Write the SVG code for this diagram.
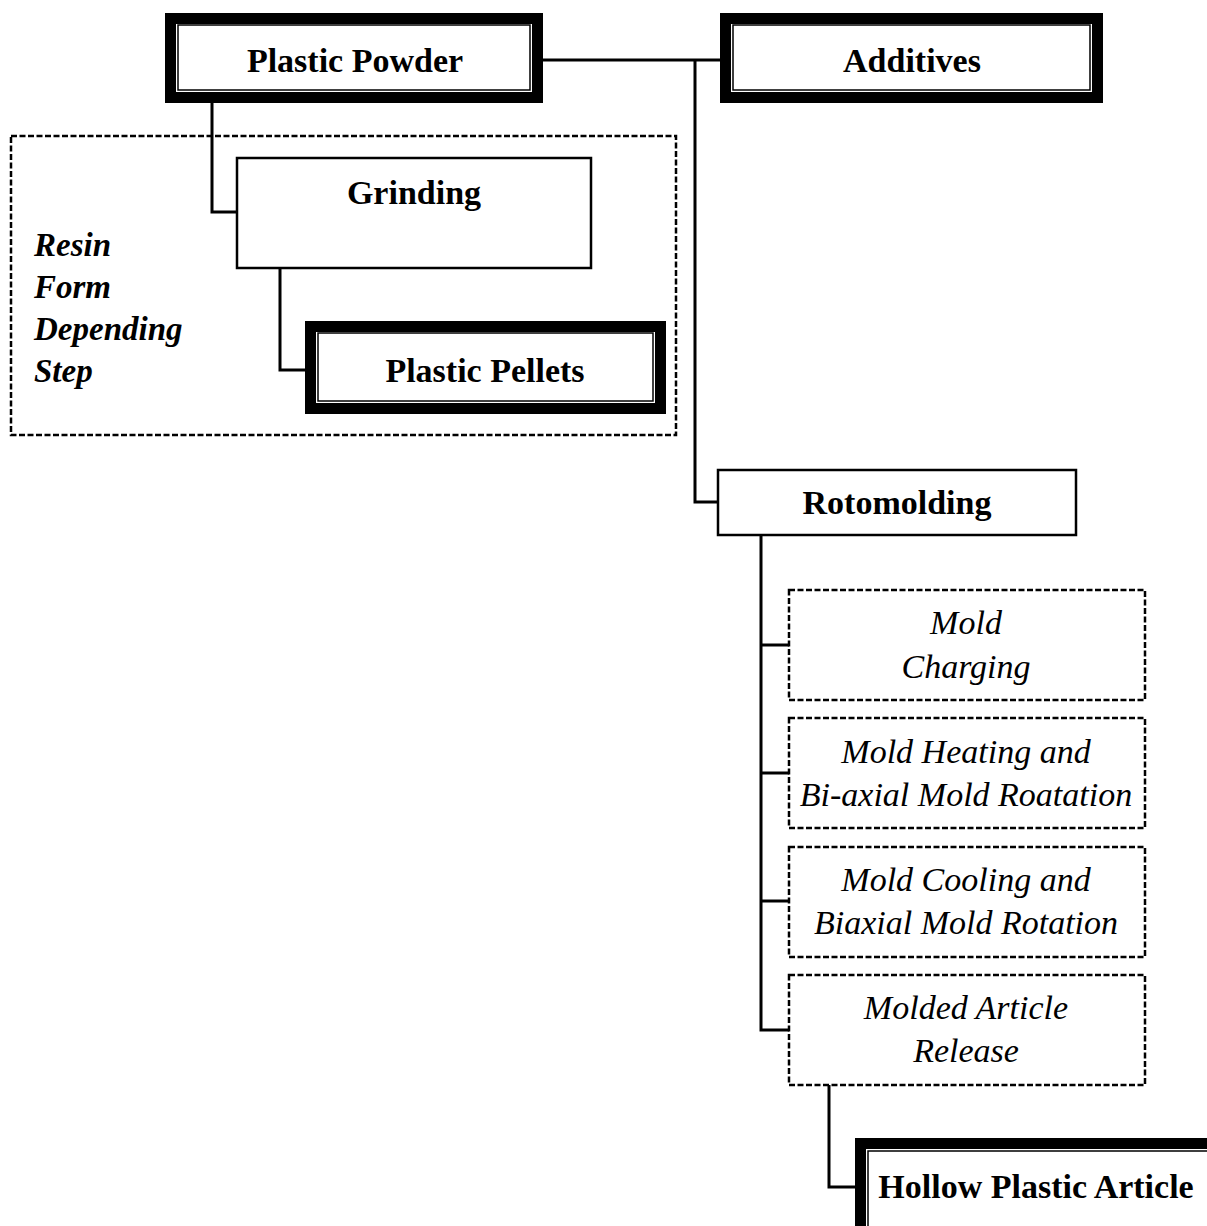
<svg xmlns="http://www.w3.org/2000/svg" width="1207" height="1226" viewBox="0 0 1207 1226">
<style>
.bg{fill:#fff}
.thick{fill:#fff;stroke:#000;stroke-width:11}
.inner{fill:none;stroke:#000;stroke-width:1.5}
.thin{fill:#fff;stroke:#000;stroke-width:2.5}
.dash{fill:#fff;stroke:#000;stroke-width:2.5;stroke-dasharray:6 2.5}
.grp{fill:none;stroke:#000;stroke-width:2.5;stroke-dasharray:6 2.5}
.conn{fill:none;stroke:#000;stroke-width:3}
.b{font-family:"Liberation Serif",serif;font-weight:bold;font-size:34px;text-anchor:middle;fill:#000}
.bi{font-family:"Liberation Serif",serif;font-weight:bold;font-style:italic;font-size:33px;fill:#000}
.i{font-family:"Liberation Serif",serif;font-style:italic;font-size:34px;text-anchor:middle;fill:#000}
</style>
<rect class="bg" x="0" y="0" width="1207" height="1226"/>
<g id="group-resin">
<rect class="grp" x="11" y="136" width="665" height="299"/>
<text class="bi" x="34" y="256">Resin</text>
<text class="bi" x="34" y="298">Form</text>
<text class="bi" x="34" y="340">Depending</text>
<text class="bi" x="34" y="382">Step</text>
</g>
<g id="connectors">
<polyline class="conn" points="543,60 720,60"/>
<polyline class="conn" points="695,60 695,502 718,502"/>
<polyline class="conn" points="212,103 212,212 237,212"/>
<polyline class="conn" points="280,268 280,370 305,370"/>
<polyline class="conn" points="761,535 761,1030 789,1030"/>
<polyline class="conn" points="761,645 789,645"/>
<polyline class="conn" points="761,773 789,773"/>
<polyline class="conn" points="761,901 789,901"/>
<polyline class="conn" points="829,1085 829,1187 857,1187"/>
</g>
<g id="plastic-powder">
<rect class="thick" x="170.5" y="18.5" width="367" height="79"/>
<rect class="inner" x="178" y="25" width="352" height="65"/>
<text class="b" x="355" y="72">Plastic Powder</text>
</g>
<g id="additives">
<rect class="thick" x="725.5" y="18.5" width="372" height="79"/>
<rect class="inner" x="733" y="25" width="357" height="65"/>
<text class="b" x="912" y="72">Additives</text>
</g>
<g id="grinding">
<rect class="thin" x="237" y="158" width="354" height="110"/>
<text class="b" x="414" y="204">Grinding</text>
</g>
<g id="plastic-pellets">
<rect class="thick" x="310.5" y="326.5" width="350" height="82"/>
<rect class="inner" x="318" y="333" width="335" height="68"/>
<text class="b" x="485" y="382">Plastic Pellets</text>
</g>
<g id="rotomolding">
<rect class="thin" x="718" y="470" width="358" height="65"/>
<text class="b" x="897" y="514">Rotomolding</text>
</g>
<g id="mold-charging">
<rect class="dash" x="789" y="590" width="356" height="110"/>
<text class="i" x="966" y="634">Mold</text>
<text class="i" x="966" y="678">Charging</text>
</g>
<g id="mold-heating">
<rect class="dash" x="789" y="718" width="356" height="110"/>
<text class="i" x="966" y="763">Mold Heating and</text>
<text class="i" x="966" y="806">Bi-axial Mold Roatation</text>
</g>
<g id="mold-cooling">
<rect class="dash" x="789" y="847" width="356" height="110"/>
<text class="i" x="966" y="891">Mold Cooling and</text>
<text class="i" x="966" y="934">Biaxial Mold Rotation</text>
</g>
<g id="molded-release">
<rect class="dash" x="789" y="975" width="356" height="110"/>
<text class="i" x="966" y="1019">Molded Article</text>
<text class="i" x="966" y="1062">Release</text>
</g>
<g id="hollow-plastic-article">
<rect class="thick" x="860.5" y="1143.5" width="360" height="90"/>
<rect class="inner" x="868" y="1151" width="345" height="80"/>
<text class="b" x="1036" y="1198">Hollow Plastic Article</text>
</g>
</svg>
